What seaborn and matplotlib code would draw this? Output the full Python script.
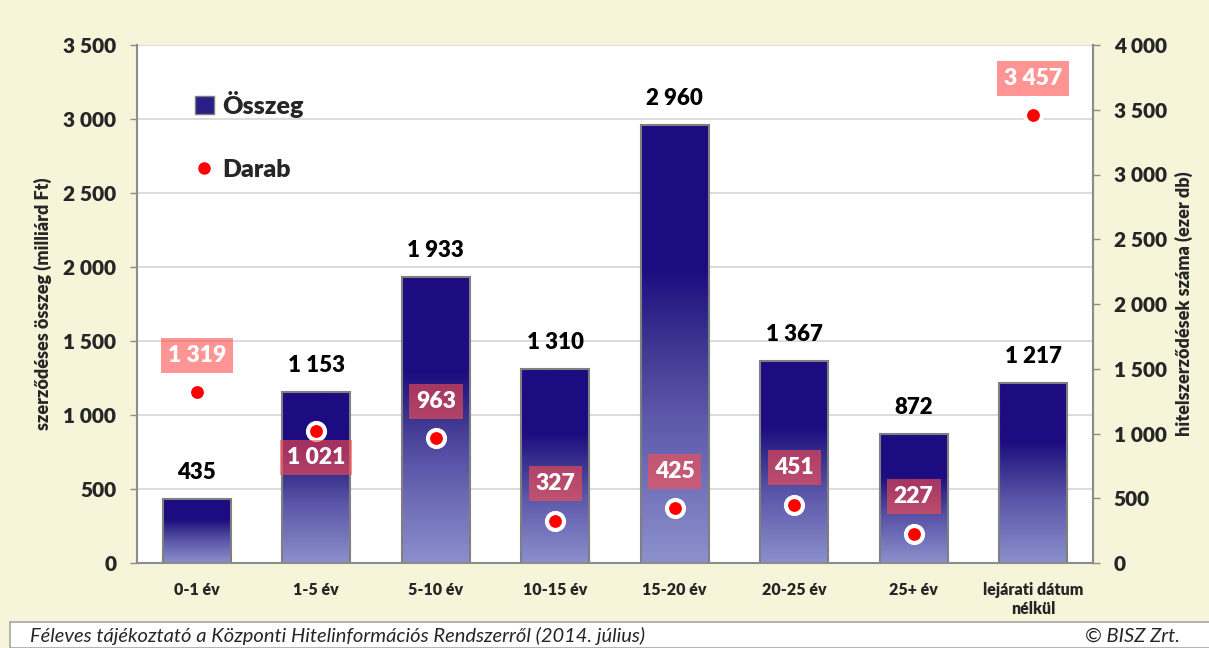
import numpy as np
import pandas as pd
import matplotlib
matplotlib.use("Agg")
import matplotlib.pyplot as plt
import seaborn as sns
from matplotlib.colors import LinearSegmentedColormap
from matplotlib.lines import Line2D
from matplotlib.patches import Rectangle

# data
categories = ["0-1 év", "1-5 év", "5-10 év", "10-15 év", "15-20 év",
              "20-25 év", "25+ év", "lejárati dátum\nnélkül"]
osszeg = [435, 1153, 1933, 1310, 2960, 1367, 872, 1217]
darab = [1319, 1021, 963, 327, 425, 451, 227, 3457]
# label above (+) or below (-) the dot
label_side = [1, -1, 1, 1, 1, 1, 1, 1]

df = pd.DataFrame({"kat": categories, "osszeg": osszeg, "darab": darab})


def fmt(v):
    return f"{v:,}".replace(",", " ")


sns.set_theme(style="white")
plt.rcParams["font.family"] = ["Lato", "DejaVu Sans"]

cream = "#f6f4d9"
fig = plt.figure(figsize=(12.09, 6.48), dpi=100, facecolor=cream)
ax = fig.add_axes([137 / 1209, 1 - 563 / 648, (1093 - 137) / 1209, (563 - 45) / 648])
ax.set_facecolor("white")

sns.barplot(data=df, x="kat", y="osszeg", ax=ax, width=0.57,
            color="#1c0c80", edgecolor="#7f7f7f", linewidth=1.5, zorder=2)

# gradient fill: top part solid navy, lower part fading to light lavender
grad = LinearSegmentedColormap.from_list(
    "bar", [(0, "#8c90cc"), (0.35, "#5a55a8"), (0.5, "#3d3590"),
            (0.67, "#1c0c80"), (1, "#1c0c80")])
g = np.linspace(0, 1, 256).reshape(-1, 1)
for bar in ax.patches:
    x0, w, h = bar.get_x(), bar.get_width(), bar.get_height()
    im = ax.imshow(g, cmap=grad, aspect="auto", origin="lower",
                   extent=[x0, x0 + w, 0, h], zorder=2.1)
    im.set_clip_path(bar)
    bar.set_facecolor("none")
    bar.set_zorder(2.2)
    ax.annotate(fmt(int(h)), (x0 + w / 2, h), xytext=(0, 19), textcoords="offset points",
                ha="center", va="center", fontsize=16, fontweight="heavy", color="black")

ax.set_xlim(-0.5, 7.5)
ax.set_ylim(0, 3500)
ax.set_yticks(np.arange(0, 3501, 500))
ax.set_yticklabels([fmt(v) for v in range(0, 3501, 500)],
                   fontsize=15, fontweight="heavy")
ax.set_xticks(range(len(categories)))
ax.set_xticklabels(categories, fontsize=11.5, fontweight="heavy")
ax.tick_params(axis="x", length=0, pad=14)
ax.tick_params(axis="y", length=5, width=1, color="#8c8c8c", direction="out", pad=10)
ax.set_xticks(np.arange(-0.5, 8, 1), minor=True)
ax.tick_params(axis="x", which="minor", length=6, width=1, color="#8c8c8c", direction="out")
ax.grid(axis="y", color="#d9d9d9", linewidth=1.3, zorder=0)
ax.set_axisbelow(True)
ax.set_xlabel("")
ax.set_ylabel("szerződéses összeg (milliárd Ft)", fontsize=13, fontweight="heavy", labelpad=8)
ax.spines["top"].set_visible(False)
for s in ["left", "bottom", "right"]:
    ax.spines[s].set_color("#8c8c8c")
    ax.spines[s].set_linewidth(1.5)

ax2 = ax.twinx()
sns.scatterplot(data=df, x="kat", y="darab", ax=ax2, s=150, color="#ff0000",
                edgecolor="white", linewidth=3, zorder=5)
ax2.set_ylim(0, 4000)
ax2.set_yticks(np.arange(0, 4001, 500))
ax2.set_yticklabels([fmt(v) for v in range(0, 4001, 500)],
                    fontsize=15, fontweight="heavy")
ax2.tick_params(axis="y", length=5, width=1, color="#8c8c8c", direction="out", pad=10)
ax2.set_ylabel("hitelszerződések száma (ezer db)", fontsize=13, fontweight="heavy", labelpad=6)
ax2.set_xlabel("")
ax2.grid(False)
for s in ["top", "left", "bottom"]:
    ax2.spines[s].set_visible(False)
ax2.spines["right"].set_color("#8c8c8c")
ax2.spines["right"].set_linewidth(1.5)

for i, (v, side) in enumerate(zip(darab, label_side)):
    off = 26.5 if side > 0 else -19.5
    ax2.annotate(fmt(v), (i, v), xytext=(0, off), textcoords="offset points",
                 ha="center", va="center", fontsize=16.5, fontweight="heavy",
                 color="white", zorder=6,
                 bbox=dict(boxstyle="square,pad=0.3", facecolor="#ff4d4d",
                           edgecolor="none", alpha=0.6))
ax2.set_xlim(-0.5, 7.5)

handles = [Rectangle((0, 0), 1, 1, facecolor="#2a1f88", edgecolor="#7f7f7f"),
           Line2D([], [], marker="o", linestyle="none", markerfacecolor="#ff0000",
                  markeredgecolor="#ff0000", markersize=8)]
ax.legend(handles, ["Összeg", "Darab"], loc="upper left", bbox_to_anchor=(0.037, 0.955),
          frameon=False, prop={"size": 18, "weight": "heavy"}, labelspacing=1.65,
          handlelength=0.75, handletextpad=0.35, handleheight=0.75)

# footer box
fig.patches.append(Rectangle((10 / 1209, 0), 1.0, 26 / 648, transform=fig.transFigure,
                             facecolor="white", edgecolor="#a6a6a6", linewidth=1.2))
fig.text(30 / 1209, 12 / 648, "Féleves tájékoztató a Központi Hitelinformációs Rendszerről (2014. július)",
         fontsize=14.5, style="italic", va="center", ha="left")
fig.text(1180 / 1209, 12 / 648, "© BISZ Zrt.", fontsize=14.5, style="italic",
         va="center", ha="right")

fig.savefig("out.png", dpi=100, facecolor=cream)
